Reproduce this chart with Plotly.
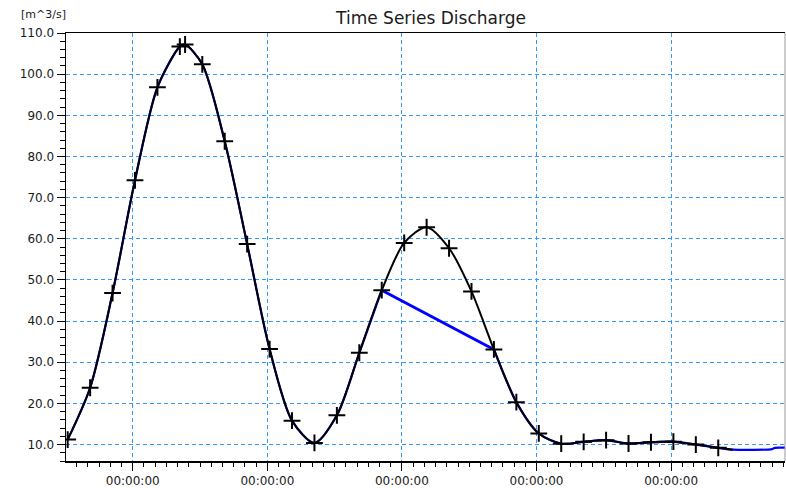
import plotly.graph_objects as go

# ---- data ----
marker_times = [
    "2000-01-01 12:24", "2000-01-01 16:24", "2000-01-01 20:24",
    "2000-01-02 00:24", "2000-01-02 04:24", "2000-01-02 08:24", "2000-01-02 09:20",
    "2000-01-02 12:24", "2000-01-02 16:24", "2000-01-02 20:24",
    "2000-01-03 00:24", "2000-01-03 04:24", "2000-01-03 08:24",
    "2000-01-03 12:24", "2000-01-03 16:24", "2000-01-03 20:24",
    "2000-01-04 00:24", "2000-01-04 04:24", "2000-01-04 08:24",
    "2000-01-04 12:24", "2000-01-04 16:24", "2000-01-04 20:24",
    "2000-01-05 00:24", "2000-01-05 04:24", "2000-01-05 08:24",
    "2000-01-05 12:24", "2000-01-05 16:24", "2000-01-05 20:24",
    "2000-01-06 00:24", "2000-01-06 04:24", "2000-01-06 08:24",
]
marker_values = [
    11.2, 23.8, 46.8,
    74.2, 96.8, 106.7, 107.2,
    102.4, 83.7, 58.7,
    33.2, 15.8, 10.4,
    17.1, 32.3, 47.5,
    59.0, 62.8, 57.7,
    47.2, 33.1, 20.3,
    12.7, 10.2, 10.65,
    11.05, 10.25, 10.55,
    10.7, 10.0, 9.2,
]
# black (simulated) line continues a little past the last marker
black_end_time = ["2000-01-06 11:00"]
black_end_value = [8.75]

# blue (observed) series: same points with a gap, plus a longer tail
blue_values = [
    11.2, 23.8, 46.8,
    74.2, 96.8, 106.7, 107.2,
    102.4, 83.7, 58.7,
    33.2, 15.8, 10.4,
    17.1, 32.3, 47.5,
    None, None, None,
    None, 33.1, 20.3,
    12.7, 10.2, 10.65,
    11.05, 10.25, 10.55,
    10.7, 10.0, 9.2,
]
blue_tail_times = ["2000-01-06 11:00", "2000-01-06 18:00", "2000-01-06 18:30", "2000-01-06 21:00"]
blue_tail_values = [8.75, 8.9, 9.2, 9.2]

title_text = "Time Series Discharge"
unit_text = "[m^3/s]"

# ---- figure ----
fig = go.Figure()

blue_x = marker_times + blue_tail_times
blue_y = blue_values + blue_tail_values
fig.add_trace(go.Scatter(x=blue_x, y=blue_y, mode="lines",
                         line=dict(color="#0000ff", width=2.2, shape="spline", smoothing=0.8),
                         connectgaps=False, hoverinfo="skip"))
# straight blue segment across the gap
gap_idx = [i for i, v in enumerate(blue_values) if v is None]
i0, i1 = gap_idx[0] - 1, gap_idx[-1] + 1
fig.add_trace(go.Scatter(x=[marker_times[i0], marker_times[i1]],
                         y=[blue_values[i0], blue_values[i1]], mode="lines",
                         line=dict(color="#0000ff", width=3), hoverinfo="skip"))

fig.add_trace(go.Scatter(x=marker_times + black_end_time, y=marker_values + black_end_value,
                         mode="lines",
                         line=dict(color="#000000", width=2, shape="spline", smoothing=0.8),
                         hoverinfo="skip"))
fig.add_trace(go.Scatter(x=marker_times, y=marker_values, mode="markers",
                         marker=dict(symbol="cross-thin", size=12, color="#000000",
                                     line=dict(color="#000000", width=2)),
                         hoverinfo="skip"))

font_family = "DejaVu Sans, Verdana, sans-serif"
grid_color = "#3399ff"
text_color = "#1a1a1a"

fig.update_layout(
    width=786, height=488,
    margin=dict(l=66, r=1, t=33, b=27),
    paper_bgcolor="white", plot_bgcolor="white",
    showlegend=False,
    hovermode=False,
    font=dict(family=font_family, size=12, color=text_color),
    title=dict(text=title_text, x=431 / 786, xanchor="center", y=1 - 18 / 488, yanchor="middle",
               font=dict(family=font_family, size=17, color=text_color)),
    xaxis=dict(
        type="date",
        range=["2000-01-01 12:06", "2000-01-06 20:18"],
        tick0="2000-01-02", dtick=86400000, tickformat="%H:%M:%S",
        showgrid=True, gridcolor=grid_color, gridwidth=1, griddash="4px,3px",
        ticks="outside", ticklen=8, tickcolor="#000000", tickwidth=1,
        showline=True, linecolor="#000000", linewidth=1.5, mirror=True,
        zeroline=False,
        minor=dict(dtick=7200000, ticks="outside", ticklen=4, tickcolor="#000000", showgrid=False),
        tickfont=dict(size=12, color=text_color),
    ),
    yaxis=dict(
        range=[6, 110],
        tick0=10, dtick=10, tickformat=".1f",
        showgrid=True, gridcolor=grid_color, gridwidth=1, griddash="4px,3px",
        ticks="outside", ticklen=8, tickcolor="#000000", tickwidth=1,
        showline=True, linecolor="#000000", linewidth=1.5,
        zeroline=False,
        minor=dict(dtick=2, ticks="outside", ticklen=5, tickcolor="#000000", showgrid=False),
        tickfont=dict(size=12, color=text_color),
    ),
    annotations=[dict(text=unit_text, xref="paper", yref="paper",
                      x=(43 - 66) / 719, y=1 + (33 - 15) / 428,
                      xanchor="center", yanchor="middle", showarrow=False,
                      font=dict(family=font_family, size=11, color=text_color))],
    shapes=[dict(type="line", xref="paper", yref="paper", x0=1, x1=1, y0=0, y1=1,
                 line=dict(color="#999999", width=1))],
)

fig.write_html("out.html",
               config={"displayModeBar": False, "staticPlot": True},
               post_script="document.body.style.margin='0';document.body.style.overflow='hidden';")
